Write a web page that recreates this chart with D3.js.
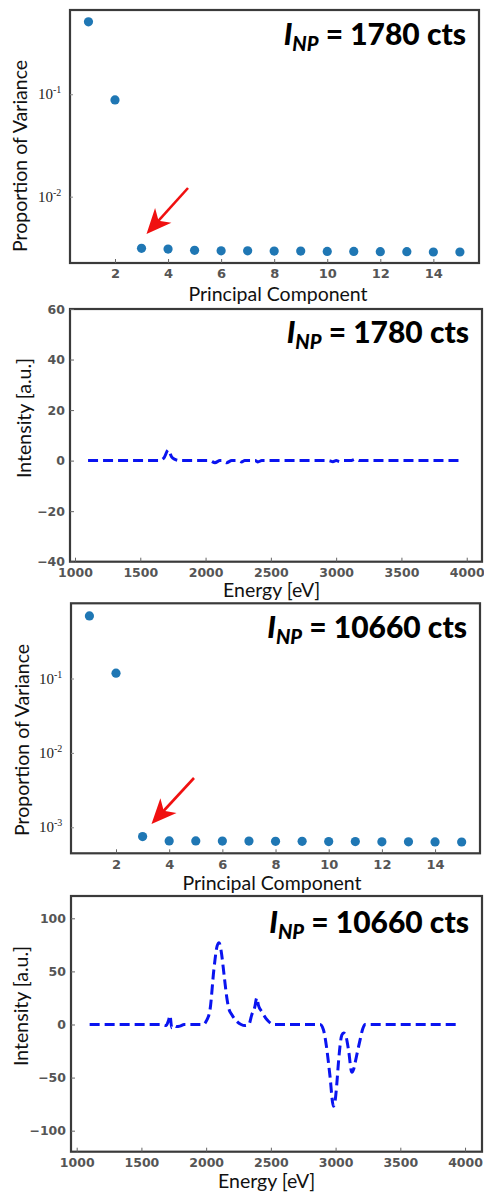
<!DOCTYPE html>
<html><head><meta charset="utf-8">
<script src="https://cdn.jsdelivr.net/npm/d3@7"></script>
<style>
body{margin:0;background:#fff;}
svg{display:block;}
</style></head>
<body>
<svg id="chart" width="484" height="1193"></svg>
<script>
// ---------------- data ----------------
const components = [1,2,3,4,5,6,7,8,9,10,11,12,13,14,15];
const variance1780 = [0.51,0.088,0.00313,0.00308,0.00299,0.00296,0.00296,0.00294,0.00294,0.00292,0.00292,0.0029,0.0029,0.00288,0.00288];
const variance10660 = [0.695,0.118,0.00075,0.000656,0.000656,0.000652,0.000652,0.000648,0.000648,0.000643,0.000643,0.000638,0.000638,0.000636,0.000634];
const pcTicks = [2,4,6,8,10,12,14];
const energyTicks = [1000,1500,2000,2500,3000,3500,4000];

const energy1780 = [1100,1640,1680,1714,1740,1766,1800,2030,2072,2110,2130,2161,2200,2250,2276,2300,2380,2401,2430,2940,2975,3000,3030,3060,3110,3150,3175,3960];
const intensity1780 = [0,0,1,4.2,1.5,0.5,0,0,-0.8,0,0,-0.8,0,0,-0.5,0,0,-0.5,0,0,-0.4,0,-0.4,0,0,0.6,0,0];
const intensity1780Ticks = [-40,-20,0,20,40,60];

const energy10660 = [1100,1650,1690,1710,1721,1734,1750,1770,1798,1830,1980,2000,2030,2060,2085,2100,2115,2140,2160,2175,2200,2236,2270,2300,2330,2352,2375,2391,2404,2430,2460,2481,2520,2880,2906,2932,2957,2983,2996,3010,3022,3048,3062,3074,3100,3125,3140,3151,3170,3190,3210,3228,3960];
const intensity10660 = [0,0,-1,4,8.5,-3,-1,-2,-1.5,0,0,3,14,52,74,77,70,45,25,15,9,3,0,-1,0,9,16,25,18,12,6,3,0,0,-5,-23,-49,-77,-72,-55,-36,-10,-8,-9,-24,-45,-42,-36,-25,-14,-4,0,0];
const intensity10660Ticks = [-100,-50,0,50,100];

const titles = ["1780","1780","10660","10660"];
const logTicks1 = [-1,-2];
const logTicks3 = [-1,-2,-3];

// ---------------- drawing ----------------
const svg = d3.select("#chart");
const tickFont = "'DejaVu Sans', sans-serif";
const labelFont = "Lato, 'Open Sans', sans-serif";

function frame(g, b){
  g.append("rect").attr("x",b.l).attr("y",b.t).attr("width",b.r-b.l).attr("height",b.b-b.t)
    .attr("fill","none").attr("stroke","#3a3a3a").attr("stroke-width",2.2);
}
function title(g, b, val, baseY){
  const t = g.append("text").attr("x",b.r-13).attr("y",baseY).attr("text-anchor","end")
    .attr("font-family","Lato, 'Open Sans', sans-serif").attr("font-weight","900")
    .attr("font-size",30).attr("fill","#000");
  t.append("tspan").attr("font-style","italic").text("I");
  t.append("tspan").attr("font-style","italic").attr("font-size",20).attr("dy",6).text("NP");
  t.append("tspan").attr("dy",-6).text(" = " + val + " cts");
}
function xLabel(g, cx, y, txt){
  g.append("text").attr("x",cx).attr("y",y).attr("text-anchor","middle")
    .attr("font-family",labelFont).attr("font-size",19.5).attr("fill","#111").text(txt);
}
function yLabel(g, x, cy, txt){
  g.append("text").attr("transform",`translate(${x},${cy}) rotate(-90)`).attr("text-anchor","middle")
    .attr("font-family",labelFont).attr("font-size",19.5).attr("fill","#111").text(txt);
}
function arrow(g, x1,y1,x2,y2){
  const ang = Math.atan2(y2-y1,x2-x1);
  const c = Math.cos(ang), s = Math.sin(ang);
  const len = 25, w = 11, notch = 7;
  const bx = x2 - len*c, by = y2 - len*s;
  const px = -s, py = c;
  g.append("line").attr("x1",x1).attr("y1",y1).attr("x2",bx+(notch+2)*c).attr("y2",by+(notch+2)*s)
    .attr("stroke","#f01010").attr("stroke-width",2.6);
  g.append("path").attr("d",`M${x2},${y2}L${bx+w*px},${by+w*py}L${bx+notch*c},${by+notch*s}L${bx-w*px},${by-w*py}Z`)
    .attr("fill","#f01010");
}

function scatterPanel(b, yDomain, values, logTicks, val, titleY, lab, arrowPts){
  const g = svg.append("g");
  const x = d3.scaleLinear().domain(b.xd).range([b.l,b.r]);
  const y = d3.scaleLog().domain(yDomain).range([b.b,b.t]);
  frame(g,b);
  const xa = g.append("g").attr("transform",`translate(0,${b.b})`)
    .call(d3.axisBottom(x).tickValues(pcTicks).tickSize(-4).tickPadding(6).tickFormat(d3.format("d")));
  xa.select(".domain").remove();
  xa.selectAll("line").attr("stroke","#666");
  xa.selectAll("text").attr("font-family",tickFont).attr("font-weight","bold").attr("font-size",13).attr("fill","#555");
  const ya = g.append("g").attr("transform",`translate(${b.l},0)`)
    .call(d3.axisLeft(y).tickValues(logTicks.map(e=>Math.pow(10,e))).tickSize(-3).tickFormat(""));
  ya.select(".domain").remove();
  ya.selectAll("line").attr("stroke","#888");
  logTicks.forEach(e=>{
    const t = g.append("text").attr("x",b.l-32).attr("y",y(Math.pow(10,e))+5)
      .attr("font-family","'Liberation Serif', 'DejaVu Serif', serif").attr("font-size",15).attr("fill","#222");
    t.append("tspan").text("10");
    t.append("tspan").attr("font-size",10).attr("dy",-6).text("-"+Math.abs(e));
  });
  g.selectAll("circle").data(values).join("circle")
    .attr("cx",(d,i)=>x(components[i])).attr("cy",d=>y(d)).attr("r",4.6).attr("fill","#1f77b4");
  title(g,b,val,titleY);
  xLabel(g,lab.xc,lab.xy,"Principal Component");
  yLabel(g,lab.yx,lab.yc,"Proportion of Variance");
  arrow(g, ...arrowPts);
}

function linePanel(b, yDomain, yTicks, ex, iy, val, titleY, lab){
  const g = svg.append("g");
  const x = d3.scaleLinear().domain(b.xd).range([b.l,b.r]);
  const y = d3.scaleLinear().domain(yDomain).range([b.b,b.t]);
  frame(g,b);
  const xa = g.append("g").attr("transform",`translate(0,${b.b})`)
    .call(d3.axisBottom(x).tickValues(energyTicks).tickSize(-4).tickPadding(6).tickFormat(d3.format("d")));
  xa.select(".domain").remove();
  xa.selectAll("line").attr("stroke","#666");
  xa.selectAll("text").attr("font-family",tickFont).attr("font-weight","bold").attr("font-size",12.5).attr("fill","#555");
  const ya = g.append("g").attr("transform",`translate(${b.l},0)`)
    .call(d3.axisLeft(y).tickValues(yTicks).tickSize(-4).tickPadding(5));
  ya.select(".domain").remove();
  ya.selectAll("line").attr("stroke","#666");
  ya.selectAll("text").attr("font-family",tickFont).attr("font-weight","bold").attr("font-size",12.5).attr("fill","#555");
  const pts = ex.map((e,i)=>[e,iy[i]]);
  g.append("path").datum(pts)
    .attr("d",d3.line().x(d=>x(d[0])).y(d=>y(d[1])).curve(d3.curveMonotoneX))
    .attr("fill","none").attr("stroke","#0a14f0").attr("stroke-width",3)
    .attr("stroke-dasharray","10,5");
  title(g,b,val,titleY);
  xLabel(g,lab.xc,lab.xy,"Energy [eV]");
  yLabel(g,lab.yx,lab.yc,"Intensity  [a.u.]");
}

scatterPanel({l:70,r:479,t:10,b:263,xd:[0.304,15.72]},[0.00225,0.665],variance1780,logTicks1,
  titles[0],45,{xc:278,xy:301,yx:27,yc:156},[188,188,146.5,234]);
linePanel({l:70,r:482,t:309,b:561.7,xd:[961.7,4117]},[-40,60],intensity1780Ticks,energy1780,intensity1780,
  titles[1],343,{xc:271.7,xy:597,yx:31,yc:418});
scatterPanel({l:71,r:480,t:603.3,b:853.3,xd:[0.307,15.69]},[0.000447,1.026],variance10660,logTicks3,
  titles[2],638,{xc:272,xy:890,yx:29,yc:740},[194,778,151.5,824]);
linePanel({l:71,r:482,t:896,b:1151.7,xd:[956,4131]},[-119.8,121],intensity10660Ticks,energy10660,intensity10660,
  titles[3],933,{xc:266.7,xy:1188,yx:28,yc:1006});
</script>
</body></html>
